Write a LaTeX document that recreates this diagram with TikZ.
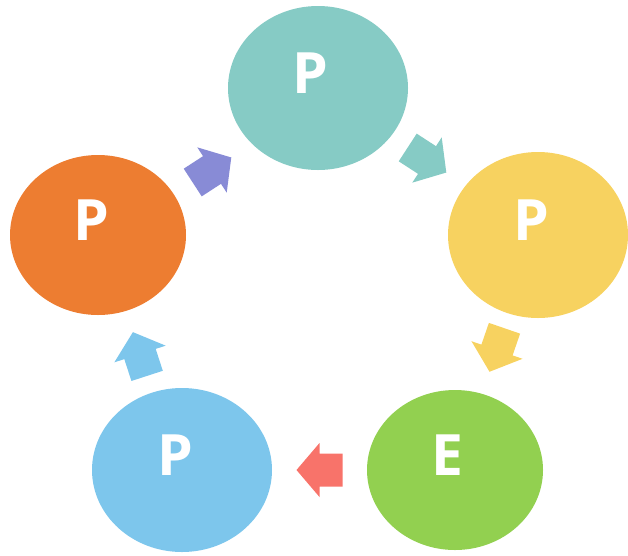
\documentclass[tikz,border=0pt]{standalone}
\usepackage{fontspec}
\setmainfont{Open Sans}
\usetikzlibrary{shapes.geometric}
\definecolor{cteal}{HTML}{86CBC5}
\definecolor{cyellow}{HTML}{F7D260}
\definecolor{cgreen}{HTML}{92D050}
\definecolor{cblue}{HTML}{7DC6EC}
\definecolor{corange}{HTML}{ED7D31}
\definecolor{cred}{HTML}{F8736A}
\definecolor{cpurple}{HTML}{888BD6}
\begin{document}
\begin{tikzpicture}[x=1pt,y=-1pt,
  blob/.style={ellipse, fill=#1, draw=none, inner sep=0pt, outer sep=0pt},
  letter/.style={text=white, inner sep=0pt, font=\fontsize{57}{60}\selectfont\bfseries}]
\useasboundingbox (0,0) rectangle (628,555);
% circles
\node[blob=cteal,   minimum width=180pt, minimum height=164pt] (e1) at (318,88)  {};
\node[blob=cyellow, minimum width=180pt, minimum height=166pt] (e2) at (538,235) {};
\node[blob=cgreen,  minimum width=176pt, minimum height=160pt] (e3) at (455,470) {};
\node[blob=cblue,   minimum width=180pt, minimum height=164pt] (e4) at (182,470) {};
\node[blob=corange, minimum width=176pt, minimum height=160pt] (e5) at (98,235)  {};
% letters
\node[letter] (t1) at (310,73)    {P};
\node[letter] (t2) at (531,220)   {P};
\node[letter] (t3) at (447,455)   {E};
\node[letter] (t4) at (175.5,455) {P};
\node[letter] (t5) at (91.5,220)  {P};
% arrows
\foreach \cx/\cy/\ang/\col in {427/160/-33/cteal, 497/350/-109/cyellow, 319.5/470/180/cred, 140/354/108/cblue, 212/170/33/cpurple}{
  \fill[\col, shift={(\cx,\cy)}, rotate=\ang]
    (-23,-16.5) -- (0,-16.5) -- (0,-27) -- (23,0) -- (0,27) -- (0,16.5) -- (-23,16.5) -- cycle;
}
\end{tikzpicture}
\end{document}
